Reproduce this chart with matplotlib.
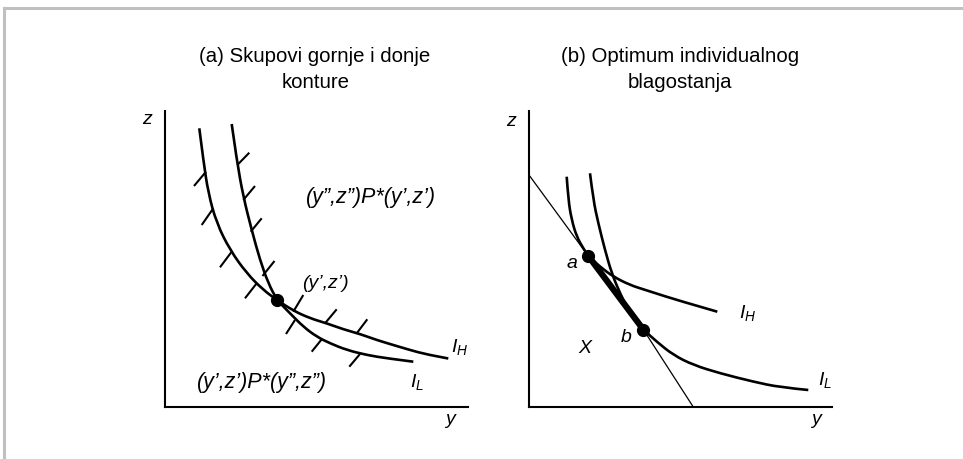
"""Two panels: upper/lower contour sets (a) and individual welfare optimum (b)."""

import matplotlib

matplotlib.use("Agg")

import matplotlib.pyplot as plt
from matplotlib.lines import Line2D
from matplotlib.patches import PathPatch
from matplotlib.path import Path

plt.rcParams["font.family"] = ["Liberation Sans", "DejaVu Sans"]
plt.rcParams["mathtext.fontset"] = "custom"
plt.rcParams["mathtext.it"] = "Liberation Sans:italic"
plt.rcParams["mathtext.rm"] = "Liberation Sans"

# panel (a): two indifference curves crossing at (y', z')
a_ih_y = [34.3, 38.3, 43.3, 51.7, 65, 81.7, 98.3, 112, 128, 145, 161.7, 178.3, 195, 211.7, 228.3, 245, 261.7, 283.3]
a_ih_z = [278.7, 247, 213.7, 183.7, 157, 133.7, 117, 107, 96.5, 88.7, 83.7, 77.7, 73, 67, 62, 57, 52.5, 48.5]
a_il_y = [66.7, 71.7, 78.3, 86.7, 95, 103.3, 112, 125, 138.3, 151.7, 165, 181.7, 201.7, 221.7, 248.3]
a_il_z = [283, 247, 210.3, 177, 147, 123.7, 107, 93.7, 80.3, 70.3, 63.7, 57, 52, 48.7, 45.3]
a_point = (112, 107)

# hatch strokes: (y0, z0, y1, z1)
a_hatches = [
    (41, 235.3, 29, 221), (48.3, 198.7, 36.7, 182), (66.7, 155.3, 55, 139.7), (91.7, 123.7, 80, 108.7),
    (72.3, 242, 84.3, 254.3), (78.3, 207, 90, 221), (85.7, 175.3, 96.7, 188.7), (97.5, 131, 109.5, 146),
    (128.3, 95.3, 138.3, 112), (160, 83.7, 171.7, 97.7), (191.7, 73.7, 202.3, 87.7),
    (130, 87, 121, 73), (156.7, 67.7, 146.7, 55.3), (195, 53, 184.3, 40.3),
]

# panel (b): budget line, tangency points a and b
b_budget_y = [0, 59.3, 114.3, 164.3]
b_budget_z = [232, 151, 77.5, 0]
b_ih_y = [37.7, 39.3, 42.7, 47.7, 54.3, 59.3, 71, 84.3, 101, 114.3, 124.3, 147.7, 188.3]
b_ih_z = [230.3, 207, 187, 170.3, 158.7, 151, 140.3, 130.3, 122, 117.7, 114.5, 107, 95.3]
b_il_y = [61, 64.3, 69.3, 76, 82.7, 91, 101, 114.3, 127.7, 144.3, 164.3, 191, 224.3, 251, 279.3]
b_il_z = [233.7, 207, 183.7, 157, 133.7, 113.7, 93.7, 77.5, 65.3, 52, 42, 33.7, 25.3, 19.7, 17]
b_point_a = (59.3, 151)
b_point_b = (114.3, 77.5)

W, H = 963, 459
X_SPAN, Z_SPAN = 303, 296


def make_axes(fig, left_px):
    ax = fig.add_axes([left_px / W, (H - 407) / H, X_SPAN / W, Z_SPAN / H])
    ax.set_xlim(0, X_SPAN)
    ax.set_ylim(0, Z_SPAN)
    for side in ("top", "right"):
        ax.spines[side].set_visible(False)
    for side in ("left", "bottom"):
        ax.spines[side].set_linewidth(1.5)
    ax.set_xticks([])
    ax.set_yticks([])
    ax.patch.set_alpha(0)
    return ax


def smooth_curve(ax, xs, zs, lw=1.9):
    # quadratic Bezier pieces: read points act as control points, joined at midpoints
    pts = list(zip(xs, zs))
    verts = [pts[0]]
    codes = [Path.MOVETO]
    for i in range(1, len(pts) - 1):
        mid = ((pts[i][0] + pts[i + 1][0]) / 2, (pts[i][1] + pts[i + 1][1]) / 2)
        end = pts[-1] if i == len(pts) - 2 else mid
        verts += [pts[i], end]
        codes += [Path.CURVE3, Path.CURVE3]
    ax.add_patch(PathPatch(Path(verts, codes), fill=False, edgecolor="black", lw=lw, capstyle="butt"))


def label(ax, x, y, s, size=14, style="italic", **kw):
    ax.text(x, y, s, fontsize=size, fontstyle=style, ha="center", va="center", clip_on=False, **kw)


fig = plt.figure(figsize=(W / 100, H / 100), dpi=100)

# light grey frame along top and left edges
fig.add_artist(Line2D([3.5 / W, 1], [1 - 8 / H, 1 - 8 / H], color="#c0c0c0", lw=2.2))
fig.add_artist(Line2D([3.5 / W, 3.5 / W], [0, 1 - 8 / H], color="#c0c0c0", lw=2.2))

ax1 = make_axes(fig, 165)
smooth_curve(ax1, a_ih_y, a_ih_z)
smooth_curve(ax1, a_il_y, a_il_z)
for y0, z0, y1, z1 in a_hatches:
    ax1.plot([y0, y1], [z0, z1], color="black", lw=1.5, solid_capstyle="butt")
ax1.plot(*a_point, "o", color="black", ms=8.5)
label(ax1, 206, 209, "(y\u201d,z\u201d)P*(y\u2019,z\u2019)", size=15.5)
label(ax1, 160, 123.7, "(y\u2019,z\u2019)")
label(ax1, 96.7, 24.5, "(y\u2019,z\u2019)P*(y\u201d,z\u201d)", size=15.5)
label(ax1, 295, 60.3, r"$I_H$", style="normal")
label(ax1, 252, 25.3, r"$I_L$", style="normal")
label(ax1, -18.3, 287, "z")
label(ax1, 285, -13, "y")
label(ax1, 150, 350, "(a) Skupovi gornje i donje", size=14.7, style="normal")
label(ax1, 151, 324, "konture", size=14.7, style="normal")

ax2 = make_axes(fig, 529)
ax2.plot(b_budget_y, b_budget_z, color="black", lw=0.9)
smooth_curve(ax2, b_ih_y, b_ih_z)
smooth_curve(ax2, b_il_y, b_il_z)
ax2.plot([b_point_a[0], b_point_b[0]], [b_point_a[1], b_point_b[1]], color="black", lw=4.5)
ax2.plot(*b_point_a, "o", color="black", ms=8.5)
ax2.plot(*b_point_b, "o", color="black", ms=8.5)
label(ax2, 42.7, 143.7, "a")
label(ax2, 97, 69.7, "b")
label(ax2, 56, 58.7, "X")
label(ax2, 219, 93.7, r"$I_H$", style="normal")
label(ax2, 296, 27, r"$I_L$", style="normal")
label(ax2, -18.3, 285.3, "z")
label(ax2, 286.7, -13, "y")
label(ax2, 151, 350, "(b) Optimum individualnog", size=14.7, style="normal")
label(ax2, 151, 324, "blagostanja", size=14.7, style="normal")

fig.savefig("out.png", dpi=100)
